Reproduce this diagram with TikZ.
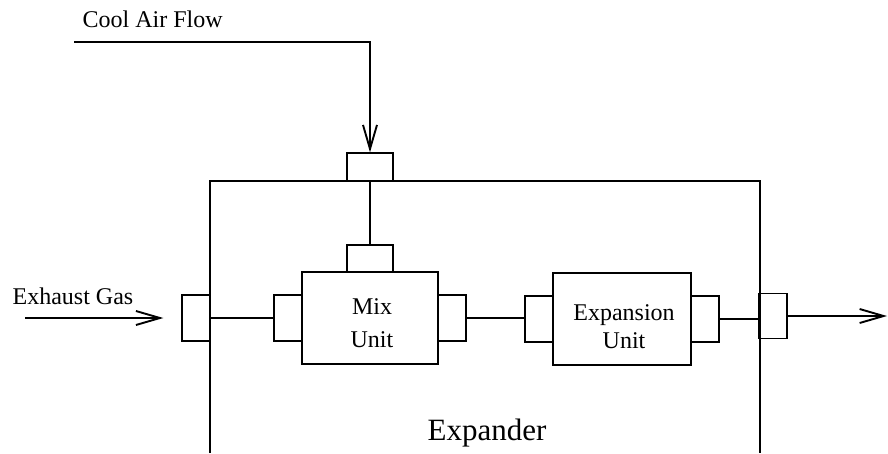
\documentclass[tikz,border=0pt]{standalone}
\usepackage{fontspec}
\setmainfont{Liberation Serif}
\usetikzlibrary{arrows.meta}
\begin{document}
\begin{tikzpicture}[x=1pt,y=-1pt,line width=1.3pt,
  portbox/.style={draw,inner sep=0pt,minimum width=#1},
  unitbox/.style={draw,inner sep=0pt,minimum width=#1,minimum height=92pt},
  lbl/.style={font=\fontsize{24}{28}\selectfont,inner sep=0pt},
  flow/.style={-{Straight Barb[length=24pt,width=14pt,line width=1.9pt]}}]
\useasboundingbox (0,0) rectangle (888,453);
% outer expander box (open at bottom)
\draw (210,453) -- (210,181) -- (760,181) -- (760,453);
% ports and units
\node[portbox=46pt,minimum height=28pt] (topport) at (370,167) {};
\node[portbox=46pt,minimum height=27pt] (mixtop) at (370,258.5) {};
\node[unitbox=136pt] (mix) at (370,318) {};
\node[portbox=28pt,minimum height=46pt] (mixL) at (288,318) {};
\node[portbox=28pt,minimum height=46pt] (mixR) at (452,318) {};
\node[portbox=28pt,minimum height=46pt] (inL) at (196,318) {};
\node[unitbox=138pt] (exp) at (622,319) {};
\node[portbox=28pt,minimum height=46pt] (expL) at (539,319) {};
\node[portbox=28pt,minimum height=46pt] (expR) at (705,319) {};
\node[portbox=28pt,minimum height=45pt] (outR) at (773,316) {};
% texts
\node[lbl,anchor=base west] (cooltxt) at (82,27) {Cool Air Flow};
\node[lbl,anchor=base west] (exhtxt) at (12,304) {Exhaust Gas};
\node[lbl,anchor=base] (mixa) at (372,314) {Mix};
\node[lbl,anchor=base] (mixb) at (372,347) {Unit};
\node[lbl,anchor=base] (expa) at (624,320) {Expansion};
\node[lbl,anchor=base] (expb) at (624,348) {Unit};
\node[font=\fontsize{31}{36}\selectfont,inner sep=0pt,anchor=base] (exptxt) at (487,440) {Expander};
% connectors
\coordinate (coolS) at (74,42);
\coordinate (exhS) at (25,318);
\coordinate (outE) at (887,316);
\draw[flow] (coolS) -| (topport.north);
\draw (topport.south) -- (mixtop.north);
\draw[flow,shorten >=18pt] (exhS) -- (inL.west);
\draw (inL.east) -- (mixL.west);
\draw (mixR.east) -- (expL.west |- mixR.east);
\draw (expR.east) -- (outR.west |- expR.east);
\draw[flow] (outR.east) -- (outE);
\end{tikzpicture}
\end{document}
